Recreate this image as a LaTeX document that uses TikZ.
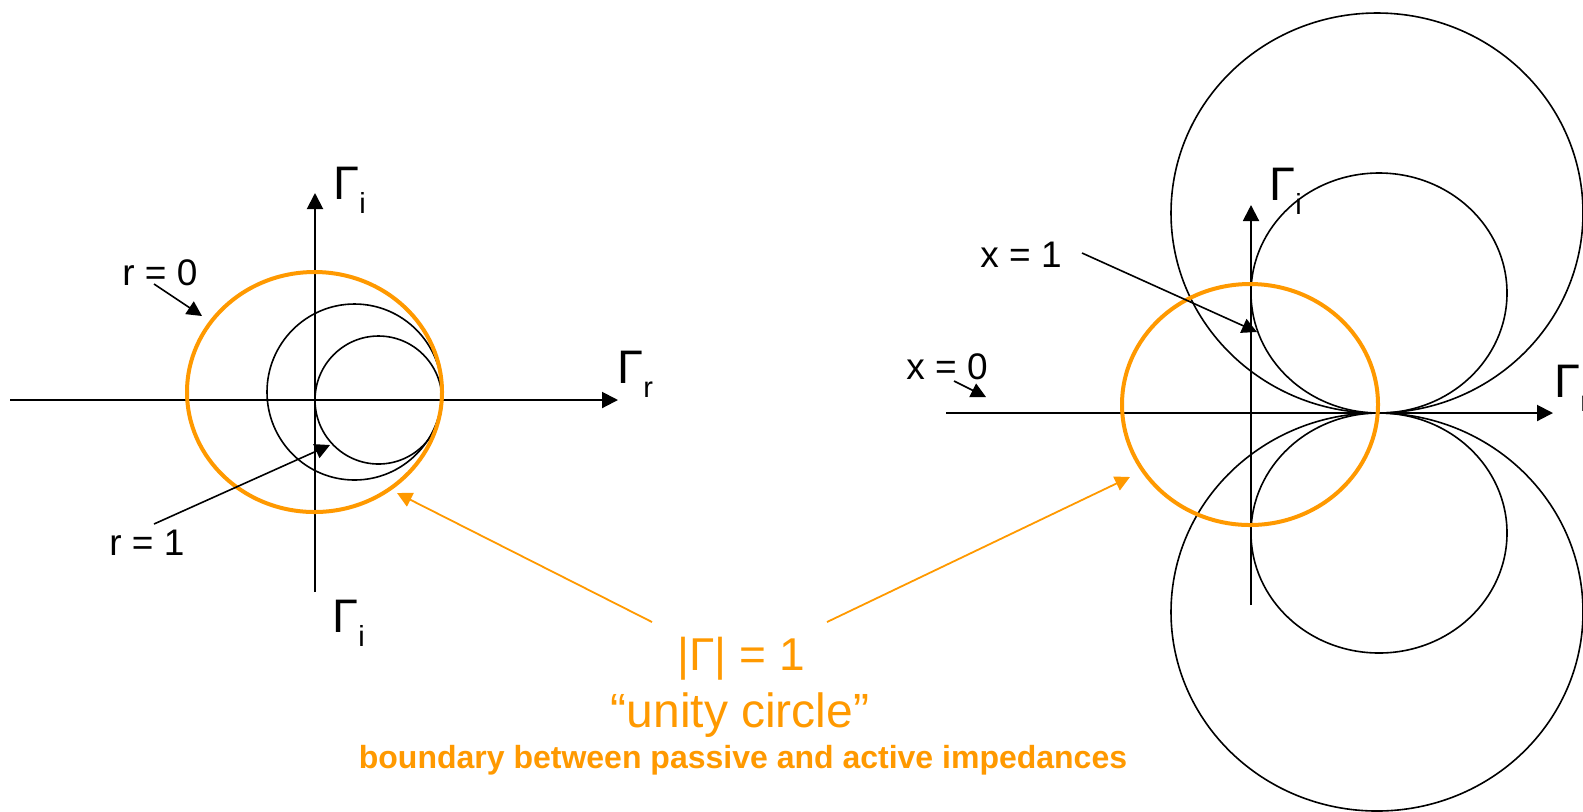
\documentclass[tikz,border=0pt]{standalone}
\usepackage{fontspec}
\setmainfont{Liberation Sans}
\usetikzlibrary{arrows.meta}
\definecolor{ink}  {HTML}{000000}
\definecolor{unity}{HTML}{FF9900}
\newcommand{\gsub}[1]{{\fontsize{23.5}{24}\selectfont Γ\raisebox{-7pt}{\fontsize{14.5}{15}\selectfont #1}}}
\tikzset{
  axisarr/.style  ={draw=ink, line width=1pt, -{Triangle[length=8pt,width=8pt]}},
  curve/.style    ={draw=ink, line width=0.8pt},
  unitycirc/.style={draw=unity, line width=2pt},
  pointer/.style  ={draw=ink, line width=0.8pt, -{Triangle[length=7.5pt,width=7.5pt]}},
  unityarr/.style ={draw=unity, line width=0.9pt, -{Triangle[length=7.5pt,width=7.5pt]}},
  lbl/.style      ={inner sep=0pt, anchor=base west, font=\fontsize{18.5}{19}\selectfont},
  axlbl/.style    ={inner sep=0pt, anchor=base west},
  unitytxt/.style ={inner sep=0pt, anchor=base, text=unity},
}
\begin{document}
\begin{tikzpicture}[x=0.5pt,y=-0.5pt]
  \useasboundingbox (0,0) rectangle (1583,811);

  % resistance circles
  \draw[axisarr] (10,400) -- (618,400);
  \draw[axisarr] (315,592) -- (315,193);
  \draw[curve] (354.5,392) ellipse [x radius=43.75pt, y radius=44pt];
  \draw[curve] (378.5,400) ellipse [x radius=31.75pt, y radius=32pt];
  \draw[unitycirc] (314.5,392) ellipse [x radius=63.75pt, y radius=60pt];

  \node[axlbl] (gil) at (333,199) {\gsub{i}};
  \node[axlbl] (grl) at (617,383) {\gsub{r}};
  \node[axlbl] (gib) at (332,632) {\gsub{i}};

  \node[lbl] (r0) at (122,285) {r = 0};
  \node[lbl] (r1) at (109,555) {r = 1};
  \coordinate (r0a) at (154,284);
  \coordinate (r0b) at (202,316);
  \coordinate (r1a) at (154,524);
  \coordinate (r1b) at (330,445);
  \draw[pointer] (r0a) -- (r0b);
  \draw[pointer] (r1a) -- (r1b);

  % reactance circles
  \draw[axisarr] (946,413) -- (1553,413);
  \draw[axisarr] (1251,605) -- (1251,205);
  \draw[curve] (1377,213) ellipse [x radius=103pt, y radius=100pt];
  \draw[curve] (1379,293) ellipse [x radius=64pt, y radius=60pt];
  \draw[curve] (1379,533) ellipse [x radius=64pt, y radius=60pt];
  \draw[curve] (1377,612) ellipse [x radius=103pt, y radius=99.5pt];
  \draw[unitycirc] (1250,404.5) ellipse [x radius=64pt, y radius=60.25pt];

  \node[axlbl] (gir) at (1269,200) {\gsub{i}};
  \node[axlbl] (grr) at (1554,397) {\gsub{r}};

  \node[lbl] (x1) at (980,267) {x = 1};
  \node[lbl] (x0) at (906,379) {x = 0};
  \coordinate (x1a) at (1082,253);
  \coordinate (x1b) at (1257,332);
  \coordinate (x0a) at (954,381);
  \coordinate (x0b) at (986,397);
  \draw[pointer] (x1a) -- (x1b);
  \draw[pointer] (x0a) -- (x0b);

  % unity circle note
  \node[unitytxt, font=\fontsize{23}{24}\selectfont] (mag) at (741,670) {|Γ| = 1};
  \node[unitytxt, font=\fontsize{24}{25}\selectfont] (uc) at (740,727) {“unity circle”};
  \node[unitytxt, font=\fontsize{16}{17}\selectfont\bfseries] (bnd) at (743,768) {boundary between passive and active impedances};
  \coordinate (ula) at (652,622);
  \coordinate (ulb) at (397,493);
  \coordinate (ura) at (827,622);
  \coordinate (urb) at (1130,477);
  \draw[unityarr] (ula) -- (ulb);
  \draw[unityarr] (ura) -- (urb);
\end{tikzpicture}
\end{document}
